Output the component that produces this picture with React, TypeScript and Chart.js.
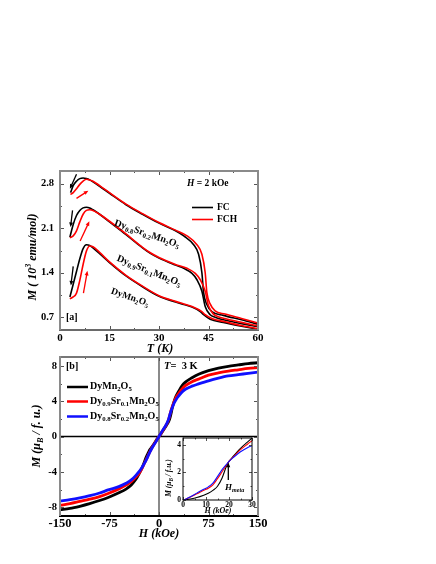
import React, { useEffect, useRef } from "react";
import { Chart, registerables } from "chart.js";
Chart.register(...registerables);

const PAGE_W = 436;
const PAGE_H = 564;
const FONT = '"Liberation Serif", "Times New Roman", serif';

// ---------------- Panel (a): M vs T ----------------
const A_X_TICKS = [0, 15, 30, 45, 60];
const A_X_LABELS = ["0", "15", "30", "45", "60"];
const A_X_MINOR = [7.5, 22.5, 37.5, 52.5];
const A_Y_TICKS = [0.7, 1.4, 2.1, 2.8];
const A_Y_LABELS = ["0.7", "1.4", "2.1", "2.8"];
const A_Y_MINOR = [1.05, 1.75, 2.45];

// Dy0.8Sr0.2Mn2O5
const T_FC_SR02 = [3.2, 4, 5, 6, 7, 8, 9, 10, 12, 15, 20, 25, 30, 35, 37.5, 40.5, 42, 43, 43.5, 44.5, 46, 49.5, 55, 60];
const M_FC_SR02 = [2.66, 2.77, 2.84, 2.88, 2.89, 2.88, 2.86, 2.83, 2.76, 2.65, 2.47, 2.32, 2.18, 2.06, 1.98, 1.84, 1.69, 1.4, 1.09, 0.9, 0.79, 0.73, 0.66, 0.59];
const T_FCH_SR02 = [3.2, 4, 5, 6, 7, 8, 9, 10, 12, 15, 20, 25, 30, 35, 38.5, 41.5, 43, 44, 44.5, 45.5, 47, 50, 55, 60];
const M_FCH_SR02 = [2.63, 2.66, 2.72, 2.79, 2.84, 2.87, 2.86, 2.84, 2.77, 2.66, 2.48, 2.33, 2.19, 2.07, 1.98, 1.84, 1.69, 1.4, 1.09, 0.91, 0.8, 0.75, 0.68, 0.61];
// Dy0.9Sr0.1Mn2O5
const T_FC_SR01 = [3, 4, 5, 6, 7, 8, 9, 10, 12, 15, 20, 25, 27.5, 30, 35, 37.5, 40, 41.5, 43, 44, 45.5, 47, 49.5, 55, 60];
const M_FC_SR01 = [1.96, 2.16, 2.3, 2.38, 2.42, 2.43, 2.42, 2.39, 2.32, 2.2, 2.0, 1.79, 1.7, 1.63, 1.52, 1.47, 1.39, 1.29, 1.11, 0.87, 0.74, 0.7, 0.66, 0.6, 0.55];
const T_FCH_SR01 = [3, 4, 5, 6, 7, 8, 9, 10, 12, 15, 20, 25, 27.5, 30, 35, 38.5, 41, 42.5, 44, 45, 46.5, 48, 50, 55, 60];
const M_FCH_SR01 = [1.95, 1.98, 2.06, 2.2, 2.32, 2.38, 2.39, 2.38, 2.32, 2.21, 2.01, 1.8, 1.71, 1.64, 1.53, 1.47, 1.39, 1.29, 1.11, 0.88, 0.75, 0.71, 0.68, 0.62, 0.565];
// DyMn2O5
const T_FC_DY = [3, 4, 5, 6, 7, 8, 9, 10, 12, 15, 20, 25, 30, 35, 37.5, 40, 42.5, 43.5, 45.5, 49.5, 55, 60];
const M_FC_DY = [1.02, 1.22, 1.42, 1.62, 1.78, 1.84, 1.83, 1.79, 1.7, 1.56, 1.35, 1.18, 1.03, 0.94, 0.9, 0.86, 0.79, 0.74, 0.67, 0.62, 0.56, 0.51];
const T_FCH_DY = [3, 4, 5, 6, 7, 8, 9, 10, 12, 15, 20, 25, 30, 35, 37.5, 40, 43, 44, 46, 50, 55, 60];
const M_FCH_DY = [0.99, 1.02, 1.08, 1.28, 1.53, 1.74, 1.82, 1.81, 1.72, 1.57, 1.36, 1.19, 1.04, 0.95, 0.91, 0.87, 0.79, 0.74, 0.68, 0.63, 0.57, 0.52];

// arrows: [T0, M0, T1, M1] (tip at T1, M1)
const ARROWS_FC = [
  [5.0, 2.95, 3.0, 2.72],
  [3.8, 2.38, 3.2, 2.12],
  [4.0, 1.5, 3.3, 1.2],
];
const ARROWS_FCH = [
  [5.0, 2.57, 8.6, 2.69],
  [6.1, 1.9, 8.9, 2.21],
  [7.1, 1.08, 8.3, 1.43],
];

// ---------------- Panel (b): M vs H ----------------
const B_X_TICKS = [-150, -75, 0, 75, 150];
const B_X_LABELS = ["-150", "-75", "0", "75", "150"];
const B_X_MINOR = [-112.5, -37.5, 37.5, 112.5];
const B_Y_TICKS = [-8, -4, 0, 4, 8];
const B_Y_LABELS = ["-8", "-4", "0", "4", "8"];
const B_Y_MINOR = [-6, -2, 2, 6];

const H_LOOP = [-150, -135, -120, -105, -90, -77, -60, -50, -42, -35, -30, -26, -23, -20, -18, -16, -14, -12, -9, -6, -3, 0, 3, 6, 9, 12, 14, 16, 18, 20, 23, 26, 30, 35, 40, 50, 60, 75, 90, 105, 120, 135, 150];
const M_DY = [-8.3, -8.15, -7.9, -7.6, -7.25, -6.9, -6.35, -5.95, -5.49, -4.85, -4.2, -3.6, -3.05, -2.45, -2.1, -1.8, -1.5, -1.3, -1.0, -0.65, -0.3, 0, 0.3, 0.65, 1.0, 1.35, 1.6, 1.95, 2.5, 3.2, 4.0, 4.6, 5.15, 5.75, 6.15, 6.65, 7.05, 7.45, 7.75, 7.95, 8.1, 8.25, 8.35];
const M_SR01 = [-7.8, -7.6, -7.35, -7.1, -6.8, -6.45, -5.9, -5.5, -5.1, -4.6, -4.15, -3.65, -3.2, -2.7, -2.4, -2.05, -1.75, -1.45, -1.05, -0.7, -0.35, 0, 0.35, 0.7, 1.05, 1.45, 1.8, 2.3, 2.9, 3.35, 3.95, 4.45, 4.9, 5.4, 5.75, 6.2, 6.5, 6.95, 7.2, 7.4, 7.55, 7.7, 7.8];
const M_SR02 = [-7.3, -7.15, -6.95, -6.7, -6.4, -6.05, -5.65, -5.3, -4.92, -4.4, -3.95, -3.55, -3.15, -2.75, -2.45, -2.1, -1.8, -1.5, -1.1, -0.75, -0.38, 0, 0.38, 0.75, 1.1, 1.5, 1.85, 2.35, 2.85, 3.25, 3.8, 4.2, 4.6, 5.05, 5.35, 5.7, 5.95, 6.3, 6.6, 6.85, 7.0, 7.15, 7.3];

// inset (virgin curves, 0-30 kOe)
const I_X_TICKS = [0, 10, 20, 30];
const I_X_LABELS = ["0", "10", "20", "30"];
const I_X_MINOR = [5, 15, 25];
const I_Y_TICKS = [0, 2, 4];
const I_Y_LABELS = ["0", "2", "4"];
const I_Y_MINOR = [1, 3];
const H_INSET = [0.5, 3, 6, 9, 11, 13, 15, 17, 19, 20, 22, 25, 28, 30];
const MI_DY = [0, 0.07, 0.18, 0.35, 0.49, 0.7, 1.0, 1.6, 2.5, 2.8, 3.2, 3.75, 4.2, 4.5];
const MI_SR01 = [0, 0.2, 0.45, 0.7, 0.85, 1.1, 1.55, 2.05, 2.55, 2.8, 3.15, 3.65, 4.05, 4.3];
const MI_SR02 = [0, 0.22, 0.5, 0.78, 0.95, 1.22, 1.7, 2.2, 2.6, 2.8, 3.1, 3.5, 3.8, 3.95];
const H_META = [19.7, 1.45, 19.7, 2.72];

const AREA_A = { l: 60, t: 171, r: 258, b: 330 };
const AREA_B = { l: 60, t: 357, r: 258, b: 516 };
const AREA_I = { l: 183, t: 438, r: 252, b: 500 };

type Seg = { t: string; s?: "sub" | "sup"; i?: boolean };

function drawRich(
  ctx: CanvasRenderingContext2D,
  segs: Seg[],
  x: number,
  y: number,
  size: number,
  opt: { align?: "left" | "center" | "right"; rot?: number; color?: string; italic?: boolean } = {}
) {
  ctx.save();
  ctx.translate(x, y);
  if (opt.rot) ctx.rotate((opt.rot * Math.PI) / 180);
  ctx.fillStyle = opt.color || "#000";
  ctx.textBaseline = "middle";
  ctx.textAlign = "left";
  const fontFor = (s: Seg) =>
    `${(s.i ?? opt.italic) ? "italic " : ""}bold ${s.s ? size * 0.68 : size}px ${FONT}`;
  let total = 0;
  for (const s of segs) {
    ctx.font = fontFor(s);
    total += ctx.measureText(s.t).width;
  }
  let cx = opt.align === "center" ? -total / 2 : opt.align === "right" ? -total : 0;
  for (const s of segs) {
    ctx.font = fontFor(s);
    const dy = s.s === "sub" ? size * 0.3 : s.s === "sup" ? -size * 0.38 : 0;
    ctx.fillText(s.t, cx, dy);
    cx += ctx.measureText(s.t).width;
  }
  ctx.restore();
}

function zip(xs: number[], ys: number[]) {
  return xs.map((x, i) => ({ x, y: ys[i] }));
}

function line(ctx: CanvasRenderingContext2D, x0: number, y0: number, x1: number, y1: number) {
  ctx.beginPath();
  ctx.moveTo(x0, y0);
  ctx.lineTo(x1, y1);
  ctx.stroke();
}

function drawAxes(
  chart: any,
  o: {
    xMajor: number[]; xMinor: number[]; yMajor: number[]; yMinor: number[];
    xLabels: string[]; yLabels: string[];
    xFont: number; yFont: number; xPad: number; yPad: number;
    majorLen: number; minorLen: number;
    frame: { top: string; right: string; bottom: string; left: string }; frameW: number;
  }
) {
  const ctx: CanvasRenderingContext2D = chart.ctx;
  const a = chart.chartArea;
  const sx = chart.scales.x;
  const sy = chart.scales.y;
  ctx.save();
  ctx.strokeStyle = "#555";
  ctx.lineWidth = 1;
  for (const v of o.xMajor) {
    const p = Math.round(sx.getPixelForValue(v)) + 0.5;
    line(ctx, p, a.bottom, p, a.bottom - o.majorLen);
    line(ctx, p, a.top, p, a.top + o.majorLen);
  }
  for (const v of o.xMinor) {
    const p = Math.round(sx.getPixelForValue(v)) + 0.5;
    line(ctx, p, a.bottom, p, a.bottom - o.minorLen);
    line(ctx, p, a.top, p, a.top + o.minorLen);
  }
  for (const v of o.yMajor) {
    const p = Math.round(sy.getPixelForValue(v)) + 0.5;
    line(ctx, a.left, p, a.left + o.majorLen, p);
    line(ctx, a.right, p, a.right - o.majorLen, p);
  }
  for (const v of o.yMinor) {
    const p = Math.round(sy.getPixelForValue(v)) + 0.5;
    line(ctx, a.left, p, a.left + o.minorLen, p);
    line(ctx, a.right, p, a.right - o.minorLen, p);
  }
  ctx.lineWidth = o.frameW;
  ctx.strokeStyle = o.frame.top;
  line(ctx, a.left, a.top, a.right, a.top);
  ctx.strokeStyle = o.frame.bottom;
  line(ctx, a.left - o.frameW / 2, a.bottom, a.right + o.frameW / 2, a.bottom);
  ctx.strokeStyle = o.frame.left;
  line(ctx, a.left, a.top - o.frameW / 2, a.left, a.bottom);
  ctx.strokeStyle = o.frame.right;
  line(ctx, a.right, a.top - o.frameW / 2, a.right, a.bottom);

  ctx.fillStyle = "#000";
  ctx.font = `bold ${o.xFont}px ${FONT}`;
  ctx.textAlign = "center";
  ctx.textBaseline = "top";
  o.xMajor.forEach((v, i) => ctx.fillText(o.xLabels[i], sx.getPixelForValue(v), a.bottom + o.xPad));
  ctx.font = `bold ${o.yFont}px ${FONT}`;
  ctx.textAlign = "right";
  ctx.textBaseline = "middle";
  o.yMajor.forEach((v, i) => ctx.fillText(o.yLabels[i], a.left - o.yPad, sy.getPixelForValue(v)));
  ctx.restore();
}

function arrow(ctx: CanvasRenderingContext2D, x0: number, y0: number, x1: number, y1: number, color: string, head: number) {
  const ang = Math.atan2(y1 - y0, x1 - x0);
  ctx.save();
  ctx.strokeStyle = color;
  ctx.fillStyle = color;
  ctx.lineWidth = 1.3;
  line(ctx, x0, y0, x1 - Math.cos(ang) * head * 0.8, y1 - Math.sin(ang) * head * 0.8);
  ctx.beginPath();
  ctx.moveTo(x1, y1);
  ctx.lineTo(x1 - head * Math.cos(ang - 0.4), y1 - head * Math.sin(ang - 0.4));
  ctx.lineTo(x1 - head * Math.cos(ang + 0.4), y1 - head * Math.sin(ang + 0.4));
  ctx.closePath();
  ctx.fill();
  ctx.restore();
}

function makeConfig(
  area: { l: number; t: number; r: number; b: number },
  xr: [number, number],
  yr: [number, number],
  datasets: any[],
  hooks: { before?: (c: any) => void; after?: (c: any) => void; bg?: (c: any) => void }
): any {
  return {
    type: "line",
    data: { datasets },
    options: {
      responsive: false,
      animation: false,
      events: [],
      layout: { padding: { left: area.l, top: area.t, right: PAGE_W - area.r, bottom: PAGE_H - area.b } },
      plugins: { legend: { display: false }, tooltip: { enabled: false }, title: { display: false } },
      scales: {
        x: { type: "linear", min: xr[0], max: xr[1], display: false },
        y: { type: "linear", min: yr[0], max: yr[1], display: false },
      },
      elements: { point: { radius: 0 } },
    },
    plugins: [
      {
        id: "decor",
        beforeDraw: (c: any) => hooks.bg && hooks.bg(c),
        beforeDatasetsDraw: (c: any) => hooks.before && hooks.before(c),
        afterDraw: (c: any) => hooks.after && hooks.after(c),
      },
    ],
  };
}

function ds(points: { x: number; y: number }[], color: string, width: number, order: number) {
  return {
    data: points,
    borderColor: color,
    borderWidth: width,
    pointRadius: 0,
    fill: false,
    cubicInterpolationMode: "monotone",
    order,
  };
}

const RED = "#ff0000";
const BLUE = "#1010ff";

const FORMULA_SR02: Seg[] = [{ t: "Dy" }, { t: "0.8", s: "sub" }, { t: "Sr" }, { t: "0.2", s: "sub" }, { t: "Mn" }, { t: "2", s: "sub" }, { t: "O" }, { t: "5", s: "sub" }];
const FORMULA_SR01: Seg[] = [{ t: "Dy" }, { t: "0.9", s: "sub" }, { t: "Sr" }, { t: "0.1", s: "sub" }, { t: "Mn" }, { t: "2", s: "sub" }, { t: "O" }, { t: "5", s: "sub" }];
const FORMULA_DY: Seg[] = [{ t: "DyMn" }, { t: "2", s: "sub" }, { t: "O" }, { t: "5", s: "sub" }];

export default function App() {
  const refA = useRef<HTMLCanvasElement>(null);
  const refB = useRef<HTMLCanvasElement>(null);
  const refI = useRef<HTMLCanvasElement>(null);

  useEffect(() => {
    const charts: Chart[] = [];

    // ---------- Panel a ----------
    const aSets = [
      ds(zip(T_FC_SR02, M_FC_SR02), "#000", 1.6, 2),
      ds(zip(T_FCH_SR02, M_FCH_SR02), RED, 1.6, 1),
      ds(zip(T_FC_SR01, M_FC_SR01), "#000", 1.6, 2),
      ds(zip(T_FCH_SR01, M_FCH_SR01), RED, 1.6, 1),
      ds(zip(T_FC_DY, M_FC_DY), "#000", 1.6, 2),
      ds(zip(T_FCH_DY, M_FCH_DY), RED, 1.6, 1),
    ];
    charts.push(
      new Chart(
        refA.current!,
        makeConfig(AREA_A, [0, 60], [0.5, 3.0], aSets, {
          after: (c: any) => {
            const ctx: CanvasRenderingContext2D = c.ctx;
            const sx = c.scales.x;
            const sy = c.scales.y;
            drawAxes(c, {
              xMajor: A_X_TICKS, xMinor: A_X_MINOR, yMajor: A_Y_TICKS, yMinor: A_Y_MINOR,
              xLabels: A_X_LABELS, yLabels: A_Y_LABELS,
              xFont: 11, yFont: 10.5, xPad: 3, yPad: 6, majorLen: 4, minorLen: 2,
              frame: { top: "#8a8a8a", right: "#8a8a8a", bottom: "#6a6a6a", left: "#8a8a8a" }, frameW: 2,
            });
            for (const [t0, m0, t1, m1] of ARROWS_FC)
              arrow(ctx, sx.getPixelForValue(t0), sy.getPixelForValue(m0), sx.getPixelForValue(t1), sy.getPixelForValue(m1), "#000", 5);
            for (const [t0, m0, t1, m1] of ARROWS_FCH)
              arrow(ctx, sx.getPixelForValue(t0), sy.getPixelForValue(m0), sx.getPixelForValue(t1), sy.getPixelForValue(m1), RED, 5);

            drawRich(ctx, [{ t: "[a]" }], 66, 317, 10);
            drawRich(ctx, [{ t: "H", i: true }, { t: " = 2 kOe" }], 187, 184, 9.5);
            ctx.save();
            ctx.lineWidth = 1.6;
            ctx.strokeStyle = "#000";
            line(ctx, 192, 207.5, 213, 207.5);
            ctx.strokeStyle = RED;
            line(ctx, 192, 219.5, 213, 219.5);
            ctx.restore();
            drawRich(ctx, [{ t: "FC" }], 217, 207.5, 9.5);
            drawRich(ctx, [{ t: "FCH" }], 217, 219.5, 9.5);

            drawRich(ctx, FORMULA_SR02, 147, 234, 10, { align: "center", rot: 19 });
            drawRich(ctx, FORMULA_SR01, 149, 271, 10, { align: "center", rot: 22 });
            drawRich(ctx, FORMULA_DY, 130, 297.5, 9.5, { align: "center", rot: 19 });

            drawRich(ctx, [{ t: "T (K)" }], 160, 349, 12, { align: "center", italic: true });
            drawRich(
              ctx,
              [{ t: "M" }, { t: " ( 10" }, { t: "3", s: "sup" }, { t: " emu/mol)" }],
              33, 257, 12, { align: "center", rot: -90, italic: true }
            );
          },
        })
      )
    );

    // ---------- Panel b ----------
    const bSets = [
      ds(zip(H_LOOP, M_DY), "#000", 2.8, 2),
      ds(zip(H_LOOP, M_SR01), RED, 2.8, 1),
      ds(zip(H_LOOP, M_SR02), BLUE, 2.8, 0),
    ];
    charts.push(
      new Chart(
        refB.current!,
        makeConfig(AREA_B, [-150, 150], [-9, 9], bSets, {
          before: (c: any) => {
            const ctx: CanvasRenderingContext2D = c.ctx;
            const a = c.chartArea;
            const x0 = c.scales.x.getPixelForValue(0);
            const y0 = c.scales.y.getPixelForValue(0);
            ctx.save();
            ctx.strokeStyle = "#8a8a8a";
            ctx.lineWidth = 2;
            line(ctx, x0, a.top, x0, a.bottom);
            ctx.strokeStyle = "#000";
            ctx.lineWidth = 1.5;
            line(ctx, a.left, y0, a.right, y0);
            ctx.restore();
          },
          after: (c: any) => {
            const ctx: CanvasRenderingContext2D = c.ctx;
            drawAxes(c, {
              xMajor: B_X_TICKS, xMinor: B_X_MINOR, yMajor: B_Y_TICKS, yMinor: B_Y_MINOR,
              xLabels: B_X_LABELS, yLabels: B_Y_LABELS,
              xFont: 12.5, yFont: 10.5, xPad: 2, yPad: 3, majorLen: 4, minorLen: 2,
              frame: { top: "#777", right: "#8a8a8a", bottom: "#000", left: "#8a8a8a" }, frameW: 2,
            });
            drawRich(ctx, [{ t: "[b]" }], 66, 366, 10);
            drawRich(ctx, [{ t: "T", i: true }, { t: "=  3 K" }], 164, 366, 10.5);
            const legend: [string, Seg[], number][] = [
              ["#000", FORMULA_DY, 387],
              [RED, FORMULA_SR01, 401.5],
              [BLUE, FORMULA_SR02, 416.5],
            ];
            for (const [col, segs, y] of legend) {
              ctx.save();
              ctx.strokeStyle = col;
              ctx.lineWidth = 2.5;
              line(ctx, 67, y, 88, y);
              ctx.restore();
              drawRich(ctx, segs, 90, y - 0.5, 10);
            }
            drawRich(ctx, [{ t: "H (kOe)" }], 159, 534, 12, { align: "center", italic: true });
            drawRich(
              ctx,
              [{ t: "M (μ" }, { t: "B", s: "sub" }, { t: " / f. u.)" }],
              37, 436, 12, { align: "center", rot: -90, italic: true }
            );
          },
        })
      )
    );

    // ---------- Inset ----------
    const iSets = [
      ds(zip(H_INSET, MI_DY), "#000", 1.1, 2),
      ds(zip(H_INSET, MI_SR01), RED, 1.1, 1),
      ds(zip(H_INSET, MI_SR02), BLUE, 1.1, 0),
    ];
    charts.push(
      new Chart(
        refI.current!,
        makeConfig(AREA_I, [0, 30], [0, 4.5], iSets, {
          bg: (c: any) => {
            const ctx: CanvasRenderingContext2D = c.ctx;
            const a = c.chartArea;
            ctx.save();
            ctx.fillStyle = "#fff";
            ctx.fillRect(a.left, a.top, a.right - a.left, a.bottom - a.top);
            ctx.restore();
          },
          after: (c: any) => {
            const ctx: CanvasRenderingContext2D = c.ctx;
            const sx = c.scales.x;
            const sy = c.scales.y;
            drawAxes(c, {
              xMajor: I_X_TICKS, xMinor: I_X_MINOR, yMajor: I_Y_TICKS, yMinor: I_Y_MINOR,
              xLabels: I_X_LABELS, yLabels: I_Y_LABELS,
              xFont: 7.5, yFont: 7.5, xPad: 1, yPad: 2, majorLen: 3, minorLen: 1.5,
              frame: { top: "#000", right: "#000", bottom: "#000", left: "#000" }, frameW: 1,
            });
            const [h0, m0, h1, m1] = H_META;
            arrow(ctx, sx.getPixelForValue(h0), sy.getPixelForValue(m0), sx.getPixelForValue(h1), sy.getPixelForValue(m1), "#000", 5);
            drawRich(ctx, [{ t: "H" }, { t: "meta", s: "sub" }], 225, 488, 9, { italic: true });
            drawRich(ctx, [{ t: "H (kOe)" }], 218, 511, 8, { align: "center", italic: true });
            drawRich(
              ctx,
              [{ t: "M (μ" }, { t: "B", s: "sub" }, { t: " / f.u.)" }],
              169, 478, 7.5, { align: "center", rot: -90, italic: true }
            );
          },
        })
      )
    );

    return () => charts.forEach((ch) => ch.destroy());
  }, []);

  const cStyle: React.CSSProperties = {
    position: "absolute",
    left: 0,
    top: 0,
    width: PAGE_W + "px",
    height: PAGE_H + "px",
  };
  return (
    <div style={{ position: "absolute", left: 0, top: 0, width: PAGE_W, height: PAGE_H, background: "#fff" }}>
      <canvas ref={refA} width={PAGE_W} height={PAGE_H} style={cStyle} />
      <canvas ref={refB} width={PAGE_W} height={PAGE_H} style={cStyle} />
      <canvas ref={refI} width={PAGE_W} height={PAGE_H} style={cStyle} />
    </div>
  );
}
